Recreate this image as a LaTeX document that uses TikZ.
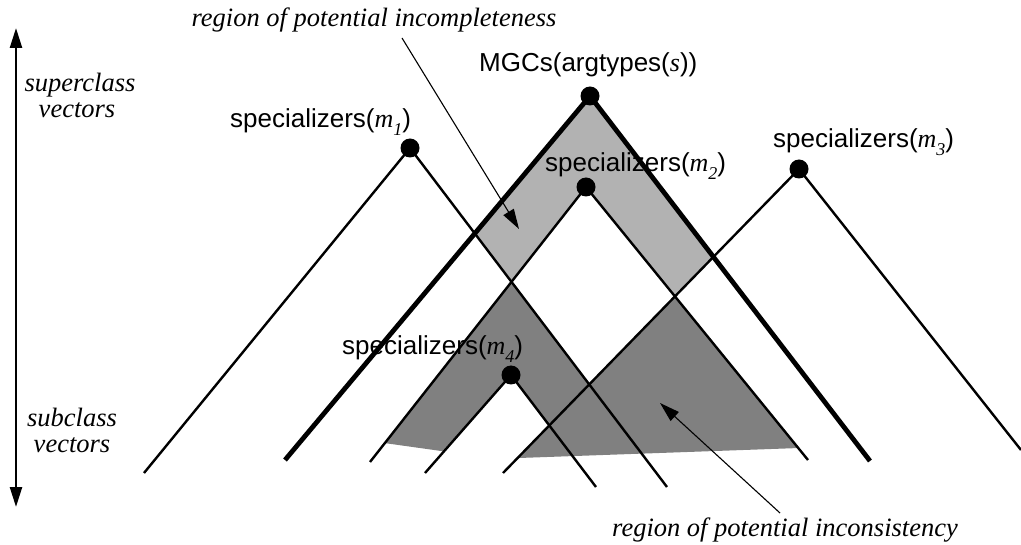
\documentclass[tikz,border=0pt]{standalone}
\usepackage{fontspec}
\setmainfont{Liberation Sans}
\newfontfamily\tms{Liberation Serif}
\usetikzlibrary{arrows.meta}
\newcommand{\mi}[2]{{\tms\itshape #1\raisebox{-0.3em}{\fontsize{18}{18}\selectfont #2}}}
\begin{document}
\begin{tikzpicture}[x=1pt,y=-1pt,
  thinline/.style={line width=2.4pt},
  thickline/.style={line width=4.8pt},
  dot/.style={circle,fill=black,inner sep=0pt,minimum size=19pt},
  lbl/.style={anchor=base west,inner sep=0pt,font=\fontsize{26}{30}\selectfont},
  captext/.style={anchor=base,inner sep=0pt,font=\tms\itshape\fontsize{26.5}{30}\selectfont},
  pointer/.style={line width=1.1pt,-{Triangle[length=20pt,width=12pt]}},
  axis/.style={line width=2.4pt,{Triangle[length=20pt,width=12pt]}-{Triangle[length=20pt,width=12pt]}},
  lightfill/.style={fill=black!30},
  darkfill/.style={fill=black!50}]
\useasboundingbox (0,0) rectangle (1021,545);
% peaks
\coordinate (p1) at (410,148);
\coordinate (pg) at (590,96);
\coordinate (p2) at (586,187);
\coordinate (p3) at (799,169);
\coordinate (p4) at (511,375);
% ends
\coordinate (e1L) at (144,473); \coordinate (e1R) at (667,487);
\coordinate (egL) at (285,460); \coordinate (egR) at (870,461);
\coordinate (e2L) at (370,462); \coordinate (e2R) at (808,460);
\coordinate (e3L) at (503,473); \coordinate (e3R) at (1021,450);
\coordinate (e4L) at (425,473); \coordinate (e4R) at (596,487);
% bottom edges of the dark region
\coordinate (bl1) at (370,441); \coordinate (bl2) at (460,453.6);
\coordinate (br1) at (500,458.7); \coordinate (br2) at (820,447.2);
% intersections
\coordinate (x1) at (intersection of pg--egL and p1--e1R);
\coordinate (x2) at (intersection of p1--e1R and p2--e2L);
\coordinate (x3) at (intersection of p2--e2R and p3--e3L);
\coordinate (x4) at (intersection of p3--e3L and pg--egR);
\coordinate (x5) at (intersection of p1--e1R and p3--e3L);
\coordinate (x6) at (intersection of p4--e4R and p3--e3L);
\coordinate (b1) at (intersection of p2--e2L and bl1--bl2);
\coordinate (b2) at (intersection of p4--e4L and bl1--bl2);
\coordinate (b3) at (intersection of p3--e3L and br1--br2);
\coordinate (b4) at (intersection of p2--e2R and br1--br2);
% regions
\fill[lightfill] (pg) -- (x1) -- (x2) -- (p2) -- (x3) -- (x4) -- cycle;
\fill[darkfill] (x2) -- (b1) -- (b2) -- (p4) -- (x6) -- (x5) -- cycle;
\fill[darkfill] (x3) -- (b3) -- (b4) -- cycle;
% cones
\draw[thinline] (e1L) -- (p1) -- (e1R);
\draw[thinline] (e2L) -- (p2) -- (e2R);
\draw[thinline] (e3L) -- (p3) -- (e3R);
\draw[thinline] (e4L) -- (p4) -- (e4R);
\draw[thickline] (egL) -- (pg) -- (egR);
% dots
\node[dot] (d1) at (p1) {};
\node[dot] (dg) at (pg) {};
\node[dot] (d2) at (p2) {};
\node[dot] (d3) at (p3) {};
\node[dot] (d4) at (p4) {};
% labels
\node[lbl] (l1) at (230,128) {specializers(\mi{m}{1})};
\node[lbl] (lg) at (479,72) {MGCs(argtypes({\tms\itshape s}))};
\node[lbl] (l2) at (545,172) {specializers(\mi{m}{2})};
\node[lbl] (l3) at (773,148) {specializers(\mi{m}{3})};
\node[lbl] (l4) at (342,355) {specializers(\mi{m}{4})};
% axis
\coordinate (ax1) at (16,28);
\coordinate (ax2) at (16,507);
\draw[axis] (ax1) -- (ax2);
\node[captext] (sup1) at (80,92) {superclass};
\node[captext] (sup2) at (77,118) {vectors};
\node[captext] (sub1) at (72,427) {subclass};
\node[captext] (sub2) at (72,453) {vectors};
% captions and pointers
\node[captext] (cinc) at (374,27) {region of potential incompleteness};
\node[captext] (ccon) at (785,536) {region of potential inconsistency};
\coordinate (ai1) at (402,38); \coordinate (ai2) at (519,229);
\coordinate (ac1) at (780,513); \coordinate (ac2) at (660,403);
\draw[pointer] (ai1) -- (ai2);
\draw[pointer] (ac1) -- (ac2);
\end{tikzpicture}
\end{document}
